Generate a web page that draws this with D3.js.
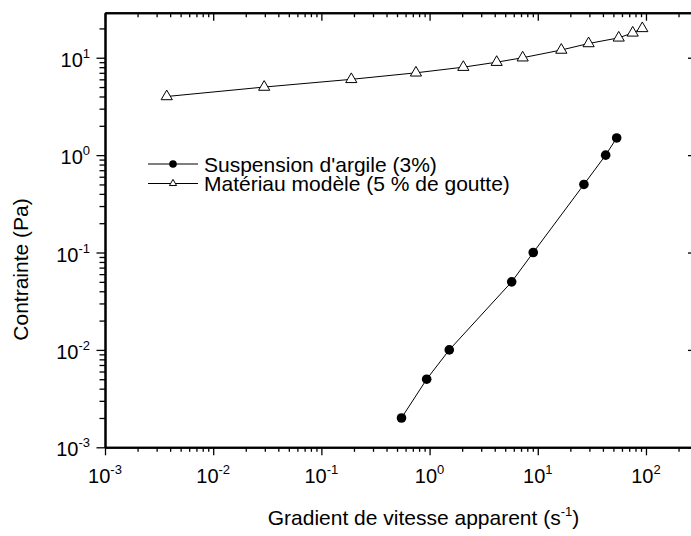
<!DOCTYPE html>
<html>
<head>
<meta charset="utf-8">
<script src="https://cdn.jsdelivr.net/npm/d3@7"></script>
<style>
  body { margin: 0; background: #fff; }
  svg { display: block; }
  text { font-family: Arial, "Liberation Sans", sans-serif; fill: #000; }
</style>
</head>
<body>
<svg id="chart" width="691" height="536"></svg>
<script>
// clay suspension (3%)
const clayShear = [0.55, 0.94, 1.52, 5.74, 9.08, 26.7, 42.4, 53.6]
const clayStress = [0.002, 0.005, 0.01, 0.05, 0.1, 0.5, 1.0, 1.5]

// model material (5 % gout)
const modelShear = [0.00372, 0.0296, 0.189, 0.748, 2.05, 4.17, 7.25, 16.5, 29.5, 56, 75.4, 92.5]
const modelStress = [4, 5, 6, 7, 8, 9, 10, 12, 14, 16, 18, 20]

const xMajors = [-3, -2, -1, 0, 1, 2]
const yMajors = [-3, -2, -1, 0, 1]

const legendLabels = ["Suspension d'argile (3%)", "Matériau modèle (5 % de goutte)"]

var svg = d3.select("#chart")
// plot frame (window.top is reserved, hence the names)
var pLeft = 105, pRight = 696, pTop = 12.7, pBottom = 447.3

var x = d3.scaleLog().domain([1e-3, 290]).range([pLeft, pRight])
var y = d3.scaleLog().domain([1e-3, 29]).range([pBottom, pTop])

function minorsOf(scale) {
  var d = scale.domain(), out = []
  for (var e = Math.floor(Math.log10(d[0])); e <= Math.ceil(Math.log10(d[1])); e++) {
    for (var k = 2; k <= 9; k++) {
      var v = k * Math.pow(10, e)
      if (v >= d[0] && v <= d[1]) out.push(v)
    }
  }
  return out
}

var xMajorVals = xMajors.map(e => Math.pow(10, e))
var yMajorVals = yMajors.map(e => Math.pow(10, e))

// axes: major + minor ticks, labels drawn separately
function addAxis(gen, tx, ty, vals, size) {
  var g = svg.append("g")
    .attr("transform", "translate(" + tx + "," + ty + ")")
    .call(gen.tickValues(vals).tickSize(size).tickSizeOuter(0).tickFormat(""))
  g.select(".domain").attr("stroke-width", 2).attr("stroke", "#000")
  g.selectAll(".tick line").attr("stroke-width", 1.3).attr("stroke", "#000")
  return g
}

addAxis(d3.axisBottom(x), 0, pBottom, xMajorVals, 8)
addAxis(d3.axisBottom(x), 0, pBottom, minorsOf(x), 4.5)
addAxis(d3.axisTop(x), 0, pTop, xMajorVals, -8)
addAxis(d3.axisTop(x), 0, pTop, minorsOf(x), -4.5)
addAxis(d3.axisLeft(y), pLeft, 0, yMajorVals, 8.5)
addAxis(d3.axisLeft(y), pLeft, 0, minorsOf(y), 5.5)
addAxis(d3.axisRight(y), pRight, 0, yMajorVals, -8)
addAxis(d3.axisRight(y), pRight, 0, minorsOf(y), -4.5)

// tick labels with superscript exponents
var xl = svg.append("g").selectAll("text")
  .data(xMajors)
  .enter()
  .append("text")
  .attr("x", d => x(Math.pow(10, d)))
  .attr("y", 483)
  .attr("text-anchor", "middle")
  .style("font-size", "20px")
xl.append("tspan").text("10")
xl.append("tspan").attr("dy", -9).style("font-size", "13px").text(d => d)

var yl = svg.append("g").selectAll("text")
  .data(yMajors)
  .enter()
  .append("text")
  .attr("x", 90)
  .attr("y", d => y(Math.pow(10, d)) + 9)
  .attr("text-anchor", "end")
  .style("font-size", "20px")
yl.append("tspan").text("10")
yl.append("tspan").attr("dy", -9).style("font-size", "13px").text(d => d)

// axis titles
var xt = svg.append("text")
  .attr("x", 423.5)
  .attr("y", 525)
  .attr("text-anchor", "middle")
  .style("font-size", "21px")
xt.append("tspan").text("Gradient de vitesse apparent (s")
xt.append("tspan").attr("dy", -9).style("font-size", "13px").text("-1")
xt.append("tspan").attr("dy", 9).text(")")

svg.append("text")
  .attr("transform", "translate(28,269.5) rotate(-90)")
  .attr("text-anchor", "middle")
  .style("font-size", "21px")
  .text("Contrainte (Pa)")

// series
var line = d3.line()
  .x(d => x(d[0]))
  .y(d => y(d[1]))

var clay = clayShear.map((v, i) => [v, clayStress[i]])
var model = modelShear.map((v, i) => [v, modelStress[i]])

svg.append("path")
  .datum(clay)
  .attr("d", line)
  .attr("fill", "none")
  .attr("stroke", "#000")
  .attr("stroke-width", 1)

svg.append("path")
  .datum(model)
  .attr("d", line)
  .attr("fill", "none")
  .attr("stroke", "#000")
  .attr("stroke-width", 1)

svg.append("g").selectAll("circle")
  .data(clay)
  .enter()
  .append("circle")
  .attr("cx", d => x(d[0]))
  .attr("cy", d => y(d[1]))
  .attr("r", 4.8)
  .attr("fill", "#000")

var tri = d3.symbol().type(d3.symbolTriangle).size(54)
svg.append("g").selectAll("path")
  .data(model)
  .enter()
  .append("path")
  .attr("d", tri)
  .attr("transform", d => "translate(" + x(d[0]) + "," + y(d[1]) + ")")
  .attr("fill", "#fff")
  .attr("stroke", "#000")
  .attr("stroke-width", 1)

// legend
var legendY = [164, 183.5]
var lg = svg.append("g")
legendLabels.forEach(function (label, i) {
  lg.append("line")
    .attr("x1", 148).attr("x2", 198)
    .attr("y1", legendY[i]).attr("y2", legendY[i])
    .attr("stroke", "#000").attr("stroke-width", 1)
  if (i == 0) {
    lg.append("circle")
      .attr("cx", 173).attr("cy", legendY[i]).attr("r", 3.8)
      .attr("fill", "#000")
  } else {
    lg.append("path")
      .attr("d", d3.symbol().type(d3.symbolTriangle).size(22))
      .attr("transform", "translate(173," + legendY[i] + ")")
      .attr("fill", "#fff").attr("stroke", "#000").attr("stroke-width", 1)
  }
  lg.append("text")
    .attr("x", 204)
    .attr("y", legendY[i] + 7.5)
    .style("font-size", "21px")
    .text(label)
})
</script>
</body>
</html>
